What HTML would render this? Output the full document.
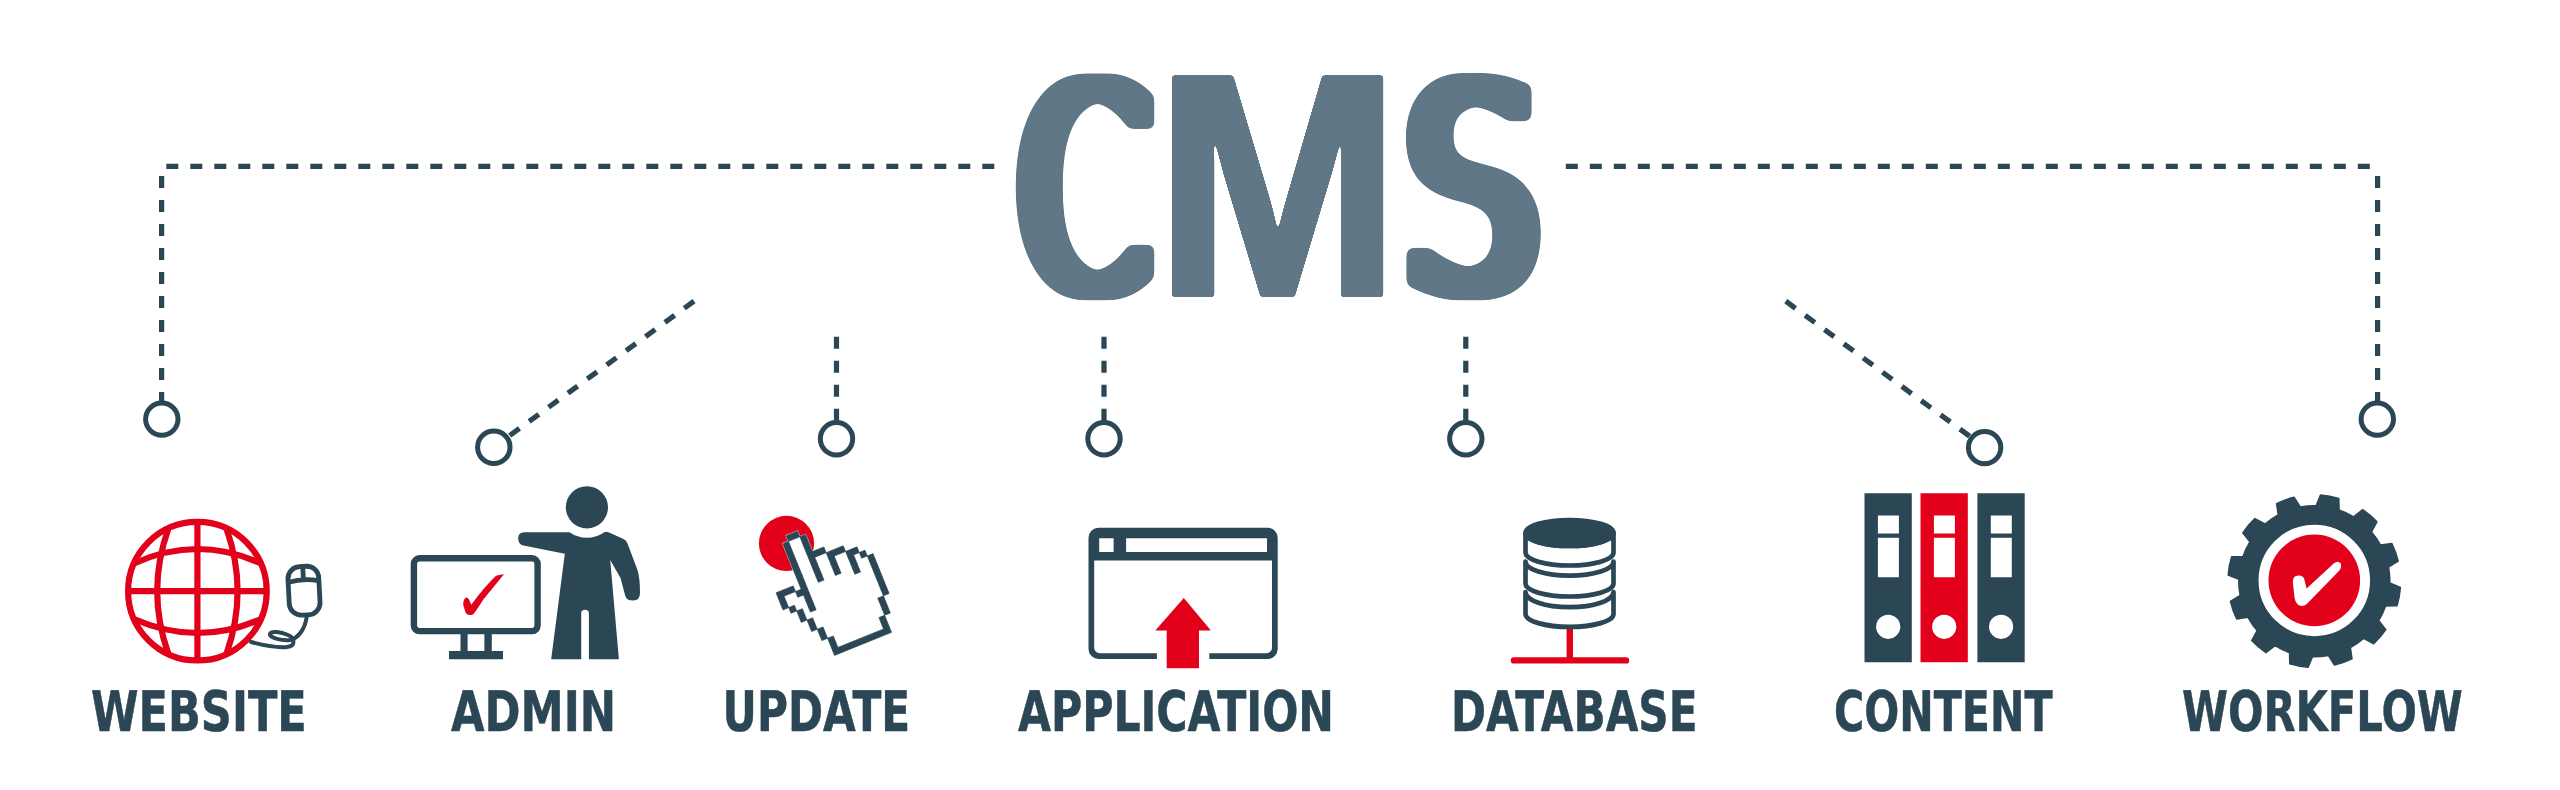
<!DOCTYPE html>
<html lang="en">
<head>
<meta charset="utf-8">
<title>CMS</title>
<style>
html,body{margin:0;padding:0;background:#fff;}
body{width:2560px;height:790px;overflow:hidden;}
svg{display:block;}
.d{stroke:#2b4655;stroke-width:5.2;fill:none;stroke-dasharray:12 12;}
.c{stroke:#2b4655;stroke-width:5;fill:#fff;}
.lbl{text-rendering:geometricPrecision;font-family:"DejaVu Sans","Liberation Sans",sans-serif;font-weight:bold;fill:#2b4655;stroke:#2b4655;stroke-width:0.5;stroke-linejoin:round;}

</style>
</head>
<body>
<svg width="2560" height="790" viewBox="0 0 2560 790">
<rect width="2560" height="790" fill="#fff"/>
<!-- CONNECTORS -->
<g id="connectors">
<path class="d" d="M994.3 166.3H165.8"/>
<path class="d" d="M161.6 176V404"/>
<path class="d" d="M1565.8 166.3H2371"/>
<path class="d" d="M2377.6 176V404"/>
<path class="d" d="M694 301.2L494 447"/>
<path class="d" d="M1785.8 301.2L1985 447.5"/>
<path class="d" d="M836.5 336.7V424"/>
<path class="d" d="M1104 336.7V424"/>
<path class="d" d="M1465.8 336.7V424"/>
<circle class="c" cx="161.8" cy="419.1" r="16.2"/>
<circle class="c" cx="493.8" cy="447.2" r="16.2"/>
<circle class="c" cx="836.5" cy="438.8" r="16.2"/>
<circle class="c" cx="1104" cy="438.8" r="16.2"/>
<circle class="c" cx="1465.8" cy="438.8" r="16.2"/>
<circle class="c" cx="1984.6" cy="447.6" r="16.2"/>
<circle class="c" cx="2377.3" cy="419.1" r="16.2"/>
</g>
<!-- TITLE -->
<g id="title">
<defs>
<filter id="fC" filterUnits="userSpaceOnUse" x="950" y="30" width="660" height="310" color-interpolation-filters="sRGB"><feMorphology operator="dilate" radius="11 0"/><feMorphology operator="erode" radius="0 2"/><feGaussianBlur stdDeviation="3"/><feComponentTransfer><feFuncA type="linear" slope="10" intercept="-4.5"/></feComponentTransfer></filter>
<filter id="fM" filterUnits="userSpaceOnUse" x="950" y="30" width="660" height="310" color-interpolation-filters="sRGB"><feMorphology operator="dilate" radius="1 0"/><feGaussianBlur stdDeviation="1.5"/><feComponentTransfer><feFuncA type="linear" slope="10" intercept="-4.5"/></feComponentTransfer></filter>
<filter id="fS" filterUnits="userSpaceOnUse" x="950" y="30" width="660" height="310" color-interpolation-filters="sRGB"><feMorphology operator="dilate" radius="9 0"/><feMorphology operator="erode" radius="0 1"/><feGaussianBlur stdDeviation="3"/><feComponentTransfer><feFuncA type="linear" slope="10" intercept="-4.5"/></feComponentTransfer></filter>
</defs>
<g filter="url(#fC)"><text transform="translate(1018.80 293.90) scale(0.643 1)" x="0 20000 30000" y="0" font-size="294" style="font-family:'DejaVu Sans','Liberation Sans',sans-serif;font-weight:normal;fill:#5f7786;stroke:#5f7786;stroke-width:8.5;stroke-linejoin:round;">CMS</text></g>
<g filter="url(#fM)"><text transform="translate(1154.40 295.50) scale(0.93 1)" x="-30000 0 30000" y="0" font-size="318" style="font-family:'Liberation Sans',sans-serif;font-weight:bold;fill:#5f7786;stroke:#5f7786;stroke-width:3;stroke-linejoin:round;">CMS</text></g>
<g filter="url(#fS)"><text transform="translate(1405.30 291.30) scale(0.734 1)" x="-30000 -20000 0" y="0" font-size="287.4" style="font-family:'DejaVu Sans','Liberation Sans',sans-serif;font-weight:normal;fill:#5f7786;stroke:#5f7786;stroke-width:12;stroke-linejoin:round;">CMS</text></g>
</g>
<!-- LABELS -->
<g id="labels" opacity="0.999">
<text class="lbl" x="91.0" y="730.9" font-size="55.8" textLength="215.8" lengthAdjust="spacingAndGlyphs">WEBSITE</text>
<text class="lbl" x="451.0" y="730.9" font-size="55.8" textLength="165.1" lengthAdjust="spacingAndGlyphs">ADMIN</text>
<text class="lbl" x="722.6" y="730.9" font-size="55.8" textLength="187.5" lengthAdjust="spacingAndGlyphs">UPDATE</text>
<text class="lbl" x="1018.0" y="730.9" font-size="55.8" textLength="316.0" lengthAdjust="spacingAndGlyphs">APPLICATION</text>
<text class="lbl" x="1450.9" y="730.9" font-size="55.8" textLength="246.7" lengthAdjust="spacingAndGlyphs">DATABASE</text>
<text class="lbl" x="1834.0" y="730.9" font-size="55.8" textLength="218.5" lengthAdjust="spacingAndGlyphs">CONTENT</text>
<text class="lbl" x="2182.0" y="730.9" font-size="55.8" textLength="280.8" lengthAdjust="spacingAndGlyphs">WORKFLOW</text>
</g>
<!-- ICONS -->
<g id="icons">
<!-- ADMIN: monitor + person -->
<g id="admin">
<rect x="413.9" y="558.3" width="123.7" height="72.8" rx="5.5" ry="5.5" fill="#fff" stroke="#2b4655" stroke-width="6.4"/>
<path fill="#2b4655" d="M460.5 633H467.6V651H484.4V633H491.8V651H503V659.3H449V651H460.5Z"/>
<path fill="#e2001a" d="M463.3 605.2 Q462.8 600.3 465.8 597.6 Q468.2 597.6 469.0 599.4 L471.3 604.7 Q485.4 585.7 496.1 575.8 Q500.5 574.2 504.0 574.2 Q496.1 583.9 483.7 599.0 Q479.2 606.1 474.4 613.1 Q472.6 615.6 469.9 614.9 Q466.4 615.4 465.5 612.3 Z"/>
<circle cx="586.9" cy="507.3" r="21.1" fill="#2b4655"/>
<path fill="#2b4655" d="M524.5 532.2H569.5A30.3 30.3 0 0 0 604.3 532.2Q606.5 531.3 608.5 532.3L623.5 539Q626 540.2 627.3 543L637.5 570Q640 578 640 593Q640 600.5 633 600.5Q626.5 600.5 625.3 596L620.5 578L610.2 560L618.9 659.3H588.9V613.5Q588.9 609.8 585.0 609.8Q581.2 609.8 581.2 613.5V659.3H551.2L564.8 553.8L523.5 545.6Q518.2 544.3 518.2 538.5Q518.2 532.2 524.5 532.2Z"/>
</g>
<!-- UPDATE: click + pixel hand -->
<g id="update">
<circle cx="786.5" cy="543.4" r="27.6" fill="#e2001a"/>
<!--HAND--><g transform="translate(793.00 536.20) rotate(-22.00) scale(6.15) translate(-6 -0.5)">
<path fill="#fff" stroke="#fff" stroke-width="0.2" d="M5 0h2v1h-2zM4 1h4v1h-4zM4 2h4v1h-4zM4 3h4v1h-4zM4 4h6v1h-6zM4 5h9v1h-9zM4 6h11v1h-11zM4 7h12v1h-12zM0 8h3v1h-3zM4 8h13v1h-13zM0 9h17v1h-17zM0 10h17v1h-17zM1 11h16v1h-16zM2 12h15v1h-15zM2 13h15v1h-15zM3 14h14v1h-14zM3 15h13v1h-13zM4 16h12v1h-12zM4 17h12v1h-12zM5 18h10v1h-10zM5 19h10v1h-10zM5 20h10v1h-10z"/>
<path fill="#2b4655" stroke="#2b4655" stroke-width="0.1" d="M5 0h2v1h-2zM4 1h1v1h-1zM7 1h1v1h-1zM4 2h1v1h-1zM7 2h1v1h-1zM4 3h1v1h-1zM7 3h1v1h-1zM4 4h1v1h-1zM7 4h3v1h-3zM4 5h1v1h-1zM7 5h1v1h-1zM10 5h3v1h-3zM4 6h1v1h-1zM7 6h1v1h-1zM10 6h1v1h-1zM13 6h2v1h-2zM4 7h1v1h-1zM7 7h1v1h-1zM10 7h1v1h-1zM13 7h1v1h-1zM15 7h1v1h-1zM0 8h3v1h-3zM4 8h1v1h-1zM7 8h1v1h-1zM10 8h1v1h-1zM13 8h1v1h-1zM16 8h1v1h-1zM0 9h1v1h-1zM3 9h2v1h-2zM13 9h1v1h-1zM16 9h1v1h-1zM0 10h1v1h-1zM4 10h1v1h-1zM16 10h1v1h-1zM1 11h1v1h-1zM4 11h1v1h-1zM16 11h1v1h-1zM2 12h1v1h-1zM4 12h1v1h-1zM16 12h1v1h-1zM2 13h1v1h-1zM16 13h1v1h-1zM3 14h1v1h-1zM16 14h1v1h-1zM3 15h1v1h-1zM15 15h1v1h-1zM4 16h1v1h-1zM15 16h1v1h-1zM4 17h1v1h-1zM15 17h1v1h-1zM5 18h1v1h-1zM14 18h1v1h-1zM5 19h1v1h-1zM14 19h1v1h-1zM5 20h10v1h-10z"/>
</g><!--/HAND-->
</g>
<!-- APPLICATION: window + arrow -->
<g id="application">
<path fill="#2b4655" fill-rule="evenodd" d="M1098.5 527.8H1267.7A10 10 0 0 1 1277.7 537.8V648.9A10 10 0 0 1 1267.7 658.9H1209.3V653.2H1266.5A5.5 5.5 0 0 0 1272 647.7V560.4H1094.2V647.7A5.5 5.5 0 0 0 1099.7 653.2H1156.9V658.9H1098.5A10 10 0 0 1 1088.5 648.9V537.8A10 10 0 0 1 1098.5 527.8ZM1099.2 538.3V552H1113.6V538.3ZM1126.1 538.3V552H1267V538.3Z"/>
<path fill="#e2001a" d="M1183.8 598L1210.9 630.6H1199V668.2H1166.7V630.6H1155.3Z"/>
</g>
<!-- DATABASE -->
<path d="M1569.8 620V660.4M1514 660.4H1626" fill="none" stroke="#e2001a" stroke-width="6.4" stroke-linecap="round"/>
<g id="database" stroke="#2b4655" stroke-width="4.7" stroke-linejoin="round" fill="none">
<path fill="#fff" d="M1525.5 592.0V614.0A44 12.9 0 0 0 1613.5 614.0V592.0A44 15.2 0 0 1 1525.5 592.0Z"/>
<path fill="#fff" d="M1525.5 561.5V583.6A44 12.9 0 0 0 1613.5 583.6V561.5A44 14.1 0 0 1 1525.5 561.5Z"/>
<path fill="#fff" d="M1525.5 533.0V552.6A44 12.9 0 0 0 1613.5 552.6V533.0A44 12.9 0 0 1 1525.5 533.0Z"/><ellipse cx="1569.5" cy="533.0" rx="44" ry="12.9" fill="#2b4655"/>
</g>
<!-- CONTENT: binders -->
<g id="content">
<path fill="#2b4655" fill-rule="evenodd" d="M1864.5 493.2h47.3V662.2h-47.3ZM1877.9 515.4v18.2h21v-18.2ZM1877.9 537.7v39.5h21v-39.5ZM1876.1 626.8a12.1 12.1 0 1 0 24.2 0a12.1 12.1 0 1 0 -24.2 0Z"/>
<path fill="#e2001a" fill-rule="evenodd" d="M1920.5 493.2h47.3V662.2h-47.3ZM1933.9 515.4v18.2h21v-18.2ZM1933.9 537.7v39.5h21v-39.5ZM1932.1 626.8a12.1 12.1 0 1 0 24.2 0a12.1 12.1 0 1 0 -24.2 0Z"/>
<path fill="#2b4655" fill-rule="evenodd" d="M1977.4 493.2h47.3V662.2h-47.3ZM1990.8 515.4v18.2h21v-18.2ZM1990.8 537.7v39.5h21v-39.5ZM1989.0 626.8a12.1 12.1 0 1 0 24.2 0a12.1 12.1 0 1 0 -24.2 0Z"/>
</g>
<!-- WORKFLOW: gear -->
<g id="workflow">
<path fill="#2b4655" fill-rule="evenodd" stroke="#2b4655" stroke-width="1.5" stroke-linejoin="round" d="M2316.1 505.7L2320.5 495.1A86.3 86.3 0 0 1 2338.8 498.5L2339.1 509.9A75.5 75.5 0 0 1 2353.6 516.8L2362.7 509.7A86.3 86.3 0 0 1 2376.9 521.8L2371.5 531.9A75.5 75.5 0 0 1 2380.6 545.1L2391.9 543.5A86.3 86.3 0 0 1 2398.2 561.1L2388.5 567.1A75.5 75.5 0 0 1 2389.8 583.0L2400.4 587.4A86.3 86.3 0 0 1 2397.0 605.7L2385.6 606.0A75.5 75.5 0 0 1 2378.7 620.5L2385.8 629.6A86.3 86.3 0 0 1 2373.7 643.8L2363.6 638.4A75.5 75.5 0 0 1 2350.4 647.5L2352.0 658.8A86.3 86.3 0 0 1 2334.4 665.1L2328.4 655.4A75.5 75.5 0 0 1 2312.5 656.7L2308.1 667.3A86.3 86.3 0 0 1 2289.8 663.9L2289.5 652.5A75.5 75.5 0 0 1 2275.0 645.6L2265.9 652.7A86.3 86.3 0 0 1 2251.7 640.6L2257.1 630.5A75.5 75.5 0 0 1 2248.0 617.3L2236.7 618.9A86.3 86.3 0 0 1 2230.4 601.3L2240.1 595.3A75.5 75.5 0 0 1 2238.8 579.4L2228.2 575.0A86.3 86.3 0 0 1 2231.6 556.7L2243.0 556.4A75.5 75.5 0 0 1 2249.9 541.9L2242.8 532.8A86.3 86.3 0 0 1 2254.9 518.6L2265.0 524.0A75.5 75.5 0 0 1 2278.2 514.9L2276.6 503.6A86.3 86.3 0 0 1 2294.2 497.3L2300.2 507.0A75.5 75.5 0 0 1 2316.1 505.7ZM2257.8 580.4a56.5 56.5 0 1 0 113 0a56.5 56.5 0 1 0 -113 0Z"/>
<circle cx="2314.3" cy="580.4" r="45.8" fill="#e2001a"/>
<path fill="#fff" d="M2292.8 582.2Q2292.4 576.0 2298.6 575.6Q2303.9 575.6 2304.6 580.4L2306.6 588.4L2334.0 563.2Q2338.0 560.1 2340.7 563.2Q2342.0 567.1 2338.9 571.1L2306.6 604.3Q2303.0 607.0 2299.0 605.2Q2295.5 603.5 2294.6 598.1Z"/>
</g>
<!-- WEBSITE: globe + mouse -->
<g id="website" fill="none" stroke="#e2001a" stroke-width="6.2">
<circle cx="197.4" cy="591.2" r="69.3"/>
<path d="M197.4 522V660.5M128 591.2H266.8"/>
<path d="M168.4 528.5Q146 591.2 168.4 654M226.4 528.5Q248.8 591.2 226.4 654"/>
<path d="M133.9 563.5Q197.4 534.5 260.9 563.5M133.9 619Q197.4 647 260.9 619"/>
</g>
<g id="mouse" fill="none" stroke="#2b4655" stroke-linecap="round" stroke-linejoin="round">
<path stroke-width="4" d="M251 642C262 645 276 648 287 647C296 646 295 638 288 635C281 632 271 630.5 270 634C269 638 283 641 290 640C299 638 305 628 306.5 618"/>
<g transform="rotate(-3 304 590.7)" stroke-width="4.8">
<rect x="288.6" y="566.4" width="30.8" height="48.6" rx="12" ry="12"/>
<path d="M289 581.5Q304 578 319 581.5M304 567V579.5"/>
</g>
</g>
</g>
</svg>
</body>
</html>
